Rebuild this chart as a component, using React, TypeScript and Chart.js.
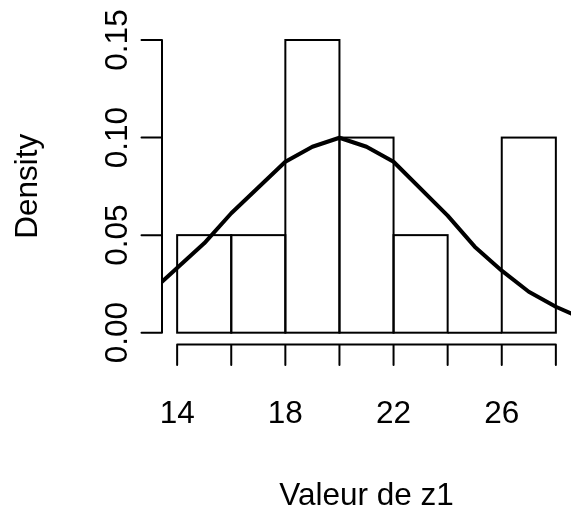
import { useEffect, useRef } from 'react';
import { Chart, registerables } from 'chart.js';

Chart.register(...registerables);

// ---- data ----
const binCenters = [15, 17, 19, 21, 23, 25, 27];
const densities = [0.05, 0.05, 0.15, 0.1, 0.05, 0.0, 0.1];
const curveX = [13.44, 15.0, 16.0, 18.0, 19.0, 20.0, 21.0, 22.0, 24.0, 25.0, 26.0, 27.0, 28.0, 28.56];
const curveY = [0.0261, 0.0458, 0.0612, 0.0876, 0.0953, 0.0999, 0.0953, 0.0876, 0.0600, 0.0441, 0.0318, 0.0210, 0.0133, 0.0099];
const xTicks = [14, 16, 18, 20, 22, 24, 26, 28];
const xTickLabels = ['14', '', '18', '', '22', '', '26', ''];
const yTicks = [0, 0.05, 0.1, 0.15];
const yTickLabels = ['0.00', '0.05', '0.10', '0.15'];
const xTitle = 'Valeur de z1';
const yTitle = 'Density';

const FONT = '31.5px "Liberation Sans", Arial, Helvetica, sans-serif';

const rPlugin = {
  id: 'rStyle',
  afterDatasetDraw(chart: any, args: any) {
    if (args.meta.type !== 'bar') return;
    const ctx = chart.ctx;
    ctx.save();
    ctx.strokeStyle = '#000';
    ctx.lineWidth = 2;
    args.meta.data.forEach((el: any) => {
      const p = el.getProps(['x', 'y', 'base', 'width'], true);
      const top = Math.min(p.y, p.base);
      const h = Math.abs(p.base - p.y);
      ctx.strokeRect(p.x - p.width / 2, top, p.width, h);
    });
    ctx.restore();
  },
  afterDraw(chart: any) {
    const ctx = chart.ctx;
    const xs = chart.scales.x;
    const ys = chart.scales.y;
    const area = chart.chartArea;
    const tick = 20.5;
    ctx.save();
    ctx.strokeStyle = '#000';
    ctx.fillStyle = '#000';
    ctx.lineWidth = 2;
    ctx.lineCap = 'round';

    // x axis
    const xb = area.bottom;
    ctx.beginPath();
    ctx.moveTo(xs.getPixelForValue(xTicks[0]), xb);
    ctx.lineTo(xs.getPixelForValue(xTicks[xTicks.length - 1]), xb);
    xTicks.forEach((t) => {
      const px = xs.getPixelForValue(t);
      ctx.moveTo(px, xb);
      ctx.lineTo(px, xb + tick);
    });
    ctx.stroke();

    // y axis
    const yl = area.left;
    ctx.beginPath();
    ctx.moveTo(yl, ys.getPixelForValue(yTicks[0]));
    ctx.lineTo(yl, ys.getPixelForValue(yTicks[yTicks.length - 1]));
    yTicks.forEach((t) => {
      const py = ys.getPixelForValue(t);
      ctx.moveTo(yl, py);
      ctx.lineTo(yl - tick, py);
    });
    ctx.stroke();

    ctx.font = FONT;
    ctx.textAlign = 'center';
    ctx.textBaseline = 'alphabetic';
    xTicks.forEach((t, i) => {
      if (!xTickLabels[i]) return;
      ctx.fillText(xTickLabels[i], xs.getPixelForValue(t), xb + 78.6);
    });
    ctx.fillText(xTitle, (area.left + area.right) / 2, xb + 160.6);

    yTicks.forEach((t, i) => {
      ctx.save();
      ctx.translate(yl - 35.3, ys.getPixelForValue(t));
      ctx.rotate(-Math.PI / 2);
      ctx.fillText(yTickLabels[i], 0, 0);
      ctx.restore();
    });
    ctx.save();
    ctx.translate(yl - 125.3, (area.top + area.bottom) / 2);
    ctx.rotate(-Math.PI / 2);
    ctx.fillText(yTitle, 0, 0);
    ctx.restore();

    ctx.restore();
  },
};

export default function App() {
  const ref = useRef<HTMLCanvasElement | null>(null);
  useEffect(() => {
    document.body.style.margin = '0';
    document.body.style.background = '#fff';
    const canvas = ref.current!;
    const chart = new Chart(canvas, {
      type: 'bar',
      data: {
        datasets: [
          {
            type: 'line',
            data: curveX.map((x, i) => ({ x, y: curveY[i] })),
            borderColor: '#000',
            borderWidth: 4,
            pointRadius: 0,
            tension: 0,
            fill: false,
            borderJoinStyle: 'round',
            borderCapStyle: 'round',
            clip: 0,
            order: 1,
          } as any,
          {
            type: 'bar',
            data: binCenters.map((x, i) => ({ x, y: densities[i] })),
            backgroundColor: '#fff',
            borderWidth: 0,
            barPercentage: 1,
            categoryPercentage: 1,
            order: 2,
          } as any,
        ],
      },
      options: {
        responsive: false,
        animation: false,
        devicePixelRatio: 1,
        layout: { padding: { left: 162, right: 0, top: 28.3, bottom: 167.6 } },
        plugins: { legend: { display: false }, tooltip: { enabled: false }, title: { display: false } },
        scales: {
          x: { type: 'linear', min: 13.44, max: 28.56, offset: false, display: false },
          y: { type: 'linear', min: -0.006, max: 0.156, display: false },
        },
      },
      plugins: [rPlugin],
    } as any);
    return () => chart.destroy();
  }, []);
  return <canvas ref={ref} width={571} height={512} style={{ display: 'block', width: 571, height: 512 }} />;
}
